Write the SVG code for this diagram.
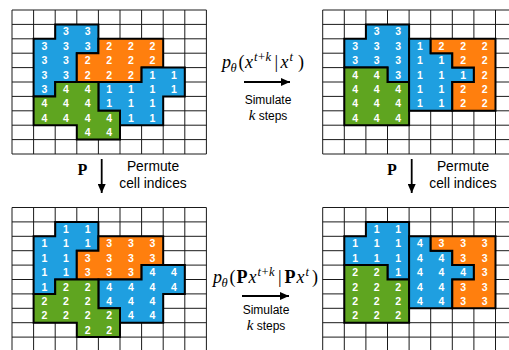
<svg xmlns="http://www.w3.org/2000/svg" xmlns:xlink="http://www.w3.org/1999/xlink" width="509" height="350" viewBox="0 0 509 350">
<style>
.gl{fill:none;stroke:#1a1a1a;stroke-width:1}
.rg{stroke:#000;stroke-width:2;stroke-linejoin:miter}
.b{fill:#1f9fe0}.o{fill:#ff7f0e}.g{fill:#5fa520}
.lbl{font-family:"Liberation Sans",Arial,sans-serif;font-weight:bold;font-size:10.5px;fill:#fff;text-anchor:middle}
.cap{font-family:"Liberation Sans",Arial,sans-serif;font-size:12px;fill:#000;text-anchor:middle}
.pc{font-size:13.8px}
.math{font-family:"Liberation Serif","Times New Roman",serif;font-size:18px;fill:#000}
.it{font-style:italic}
.scr{font-size:12.5px}
.bf{font-weight:bold;font-style:normal}
.ks{font-family:"Liberation Serif",serif;font-style:italic;font-size:15px}
.ar{stroke:#000;stroke-width:1.8;fill:none}
</style>
<defs>
<path id="grid" class="gl" d="M0 0V144M21.6 0V144M43.2 0V144M64.8 0V144M86.4 0V144M108 0V144M129.6 0V144M151.2 0V144M172.8 0V144M194.4 0V144M0 0H194.4M0 14.4H194.4M0 28.8H194.4M0 43.2H194.4M0 57.6H194.4M0 72H194.4M0 86.4H194.4M0 100.8H194.4M0 115.2H194.4M0 129.6H194.4M0 144H194.4"/>
<marker id="ah" markerUnits="userSpaceOnUse" markerWidth="10" markerHeight="8" refX="9" refY="4" orient="auto"><path d="M0 0L9 4L0 8Z" fill="#000"/></marker>
</defs>

<g id="grid-top-left" transform="translate(12,10)">
<use xlink:href="#grid"/>
<polygon class="rg b" points="43.2,14.4 86.4,14.4 86.4,43.2 64.8,43.2 64.8,72 43.2,72 43.2,86.4 21.6,86.4 21.6,28.8 43.2,28.8"/>
<polygon class="rg o" points="86.4,28.8 151.2,28.8 151.2,57.6 129.6,57.6 129.6,72 64.8,72 64.8,43.2 86.4,43.2"/>
<polygon class="rg b" points="129.6,57.6 172.8,57.6 172.8,86.4 151.2,86.4 151.2,115.2 108,115.2 108,100.8 86.4,100.8 86.4,72 129.6,72"/>
<polygon class="rg g" points="43.2,72 86.4,72 86.4,100.8 108,100.8 108,129.6 64.8,129.6 64.8,115.2 21.6,115.2 21.6,86.4 43.2,86.4"/>
<g class="lbl">
<text x="54" y="25.4">3</text><text x="75.6" y="25.4">3</text><text x="32.4" y="39.8">3</text><text x="54" y="39.8">3</text><text x="75.6" y="39.8">3</text><text x="32.4" y="54.2">3</text><text x="54" y="54.2">3</text><text x="32.4" y="68.6">3</text><text x="54" y="68.6">3</text><text x="32.4" y="83">3</text>
<text x="97.2" y="39.8">2</text><text x="118.8" y="39.8">2</text><text x="140.4" y="39.8">2</text><text x="75.6" y="54.2">2</text><text x="97.2" y="54.2">2</text><text x="118.8" y="54.2">2</text><text x="140.4" y="54.2">2</text><text x="75.6" y="68.6">2</text><text x="97.2" y="68.6">2</text><text x="118.8" y="68.6">2</text>
<text x="140.4" y="68.6">1</text><text x="162" y="68.6">1</text><text x="97.2" y="83">1</text><text x="118.8" y="83">1</text><text x="140.4" y="83">1</text><text x="162" y="83">1</text><text x="97.2" y="97.4">1</text><text x="118.8" y="97.4">1</text><text x="140.4" y="97.4">1</text><text x="118.8" y="111.8">1</text><text x="140.4" y="111.8">1</text>
<text x="54" y="83">4</text><text x="75.6" y="83">4</text><text x="32.4" y="97.4">4</text><text x="54" y="97.4">4</text><text x="75.6" y="97.4">4</text><text x="32.4" y="111.8">4</text><text x="54" y="111.8">4</text><text x="75.6" y="111.8">4</text><text x="97.2" y="111.8">4</text><text x="75.6" y="126.2">4</text><text x="97.2" y="126.2">4</text>
</g>
</g>

<g id="grid-top-right" transform="translate(322.7,10)">
<use xlink:href="#grid"/>
<polygon class="rg b" points="43.2,14.4 86.4,14.4 86.4,72 64.8,72 64.8,57.6 21.6,57.6 21.6,28.8 43.2,28.8"/>
<polygon class="rg g" points="21.6,57.6 64.8,57.6 64.8,72 86.4,72 86.4,115.2 21.6,115.2"/>
<polygon class="rg b" points="86.4,28.8 108,28.8 108,43.2 129.6,43.2 129.6,57.6 151.2,57.6 151.2,72 129.6,72 129.6,100.8 86.4,100.8"/>
<polygon class="rg o" points="108,28.8 172.8,28.8 172.8,100.8 129.6,100.8 129.6,72 151.2,72 151.2,57.6 129.6,57.6 129.6,43.2 108,43.2"/>
<g class="lbl">
<text x="54" y="25.4">3</text><text x="75.6" y="25.4">3</text><text x="32.4" y="39.8">3</text><text x="54" y="39.8">3</text><text x="75.6" y="39.8">3</text><text x="32.4" y="54.2">3</text><text x="54" y="54.2">3</text><text x="75.6" y="54.2">3</text><text x="75.6" y="68.6">3</text>
<text x="32.4" y="68.6">4</text><text x="54" y="68.6">4</text><text x="32.4" y="83">4</text><text x="54" y="83">4</text><text x="75.6" y="83">4</text><text x="32.4" y="97.4">4</text><text x="54" y="97.4">4</text><text x="75.6" y="97.4">4</text><text x="32.4" y="111.8">4</text><text x="54" y="111.8">4</text><text x="75.6" y="111.8">4</text>
<text x="97.2" y="39.8">1</text><text x="97.2" y="54.2">1</text><text x="118.8" y="54.2">1</text><text x="97.2" y="68.6">1</text><text x="118.8" y="68.6">1</text><text x="140.4" y="68.6">1</text><text x="97.2" y="83">1</text><text x="118.8" y="83">1</text><text x="97.2" y="97.4">1</text><text x="118.8" y="97.4">1</text>
<text x="118.8" y="39.8">2</text><text x="140.4" y="39.8">2</text><text x="162" y="39.8">2</text><text x="140.4" y="54.2">2</text><text x="162" y="54.2">2</text><text x="162" y="68.6">2</text><text x="140.4" y="83">2</text><text x="162" y="83">2</text><text x="140.4" y="97.4">2</text><text x="162" y="97.4">2</text>
</g>
</g>

<g id="grid-bottom-left" transform="translate(12,207.5)">
<use xlink:href="#grid"/>
<polygon class="rg b" points="43.2,14.4 86.4,14.4 86.4,43.2 64.8,43.2 64.8,72 43.2,72 43.2,86.4 21.6,86.4 21.6,28.8 43.2,28.8"/>
<polygon class="rg o" points="86.4,28.8 151.2,28.8 151.2,57.6 129.6,57.6 129.6,72 64.8,72 64.8,43.2 86.4,43.2"/>
<polygon class="rg b" points="129.6,57.6 172.8,57.6 172.8,86.4 151.2,86.4 151.2,115.2 108,115.2 108,100.8 86.4,100.8 86.4,72 129.6,72"/>
<polygon class="rg g" points="43.2,72 86.4,72 86.4,100.8 108,100.8 108,129.6 64.8,129.6 64.8,115.2 21.6,115.2 21.6,86.4 43.2,86.4"/>
<g class="lbl">
<text x="54" y="25.4">1</text><text x="75.6" y="25.4">1</text><text x="32.4" y="39.8">1</text><text x="54" y="39.8">1</text><text x="75.6" y="39.8">1</text><text x="32.4" y="54.2">1</text><text x="54" y="54.2">1</text><text x="32.4" y="68.6">1</text><text x="54" y="68.6">1</text><text x="32.4" y="83">1</text>
<text x="97.2" y="39.8">3</text><text x="118.8" y="39.8">3</text><text x="140.4" y="39.8">3</text><text x="75.6" y="54.2">3</text><text x="97.2" y="54.2">3</text><text x="118.8" y="54.2">3</text><text x="140.4" y="54.2">3</text><text x="75.6" y="68.6">3</text><text x="97.2" y="68.6">3</text><text x="118.8" y="68.6">3</text>
<text x="140.4" y="68.6">4</text><text x="162" y="68.6">4</text><text x="97.2" y="83">4</text><text x="118.8" y="83">4</text><text x="140.4" y="83">4</text><text x="162" y="83">4</text><text x="97.2" y="97.4">4</text><text x="118.8" y="97.4">4</text><text x="140.4" y="97.4">4</text><text x="118.8" y="111.8">4</text><text x="140.4" y="111.8">4</text>
<text x="54" y="83">2</text><text x="75.6" y="83">2</text><text x="32.4" y="97.4">2</text><text x="54" y="97.4">2</text><text x="75.6" y="97.4">2</text><text x="32.4" y="111.8">2</text><text x="54" y="111.8">2</text><text x="75.6" y="111.8">2</text><text x="97.2" y="111.8">2</text><text x="75.6" y="126.2">2</text><text x="97.2" y="126.2">2</text>
</g>
</g>

<g id="grid-bottom-right" transform="translate(322.7,207.5)">
<use xlink:href="#grid"/>
<polygon class="rg b" points="43.2,14.4 86.4,14.4 86.4,72 64.8,72 64.8,57.6 21.6,57.6 21.6,28.8 43.2,28.8"/>
<polygon class="rg g" points="21.6,57.6 64.8,57.6 64.8,72 86.4,72 86.4,115.2 21.6,115.2"/>
<polygon class="rg b" points="86.4,28.8 108,28.8 108,43.2 129.6,43.2 129.6,57.6 151.2,57.6 151.2,72 129.6,72 129.6,100.8 86.4,100.8"/>
<polygon class="rg o" points="108,28.8 172.8,28.8 172.8,100.8 129.6,100.8 129.6,72 151.2,72 151.2,57.6 129.6,57.6 129.6,43.2 108,43.2"/>
<g class="lbl">
<text x="54" y="25.4">1</text><text x="75.6" y="25.4">1</text><text x="32.4" y="39.8">1</text><text x="54" y="39.8">1</text><text x="75.6" y="39.8">1</text><text x="32.4" y="54.2">1</text><text x="54" y="54.2">1</text><text x="75.6" y="54.2">1</text><text x="75.6" y="68.6">1</text>
<text x="32.4" y="68.6">2</text><text x="54" y="68.6">2</text><text x="32.4" y="83">2</text><text x="54" y="83">2</text><text x="75.6" y="83">2</text><text x="32.4" y="97.4">2</text><text x="54" y="97.4">2</text><text x="75.6" y="97.4">2</text><text x="32.4" y="111.8">2</text><text x="54" y="111.8">2</text><text x="75.6" y="111.8">2</text>
<text x="97.2" y="39.8">4</text><text x="97.2" y="54.2">4</text><text x="118.8" y="54.2">4</text><text x="97.2" y="68.6">4</text><text x="118.8" y="68.6">4</text><text x="140.4" y="68.6">4</text><text x="97.2" y="83">4</text><text x="118.8" y="83">4</text><text x="97.2" y="97.4">4</text><text x="118.8" y="97.4">4</text>
<text x="118.8" y="39.8">3</text><text x="140.4" y="39.8">3</text><text x="162" y="39.8">3</text><text x="140.4" y="54.2">3</text><text x="162" y="54.2">3</text><text x="162" y="68.6">3</text><text x="140.4" y="83">3</text><text x="162" y="83">3</text><text x="140.4" y="97.4">3</text><text x="162" y="97.4">3</text>
</g>
</g>

<g id="connectors">
<line class="ar" x1="244" y1="82" x2="290" y2="82" marker-end="url(#ah)"/>
<line class="ar" x1="242" y1="296" x2="289" y2="296" marker-end="url(#ah)"/>
<line class="ar" x1="101.7" y1="159" x2="101.7" y2="193" marker-end="url(#ah)"/>
<line class="ar" x1="411.7" y1="159" x2="411.7" y2="193" marker-end="url(#ah)"/>
</g>

<g id="label-top">
<text class="math" y="68"><tspan class="it" x="222">p</tspan><tspan class="it scr" x="230.5" y="71.5">θ</tspan><tspan x="238.5" y="68">(</tspan><tspan class="it" x="245">x</tspan><tspan class="it scr" x="254" y="61">t</tspan><tspan class="scr" x="258" y="61">+</tspan><tspan class="it scr" x="265.5" y="61">k</tspan><tspan x="274.5" y="68">|</tspan><tspan class="it" x="280.5">x</tspan><tspan class="it scr" x="289.5" y="61">t</tspan><tspan x="298" y="68">)</tspan></text>
<text class="cap" x="268" y="104">Simulate</text>
<text class="cap" x="268" y="120"><tspan class="ks">k</tspan> steps</text>
</g>

<g id="label-bottom">
<text class="math" y="283"><tspan class="it" x="213">p</tspan><tspan class="it scr" x="221.5" y="286.5">θ</tspan><tspan x="229.5" y="283">(</tspan><tspan class="bf" x="236.5">P</tspan><tspan class="it" x="248.5">x</tspan><tspan class="it scr" x="257.5" y="276">t</tspan><tspan class="scr" x="261.5" y="276">+</tspan><tspan class="it scr" x="269" y="276">k</tspan><tspan x="278" y="283">|</tspan><tspan class="bf" x="284.5">P</tspan><tspan class="it" x="296.5">x</tspan><tspan class="it scr" x="305.5" y="276">t</tspan><tspan x="312" y="283">)</tspan></text>
<text class="cap" x="266" y="313.5">Simulate</text>
<text class="cap" x="266" y="330"><tspan class="ks">k</tspan> steps</text>
</g>

<g id="label-left">
<text class="math bf" x="77.5" y="175" style="font-size:16px">P</text>
<text class="cap pc" x="153" y="171">Permute</text>
<text class="cap pc" x="153" y="188">cell indices</text>
</g>

<g id="label-right">
<text class="math bf" x="387" y="175" style="font-size:16px">P</text>
<text class="cap pc" x="463" y="171">Permute</text>
<text class="cap pc" x="463" y="188">cell indices</text>
</g>
</svg>
